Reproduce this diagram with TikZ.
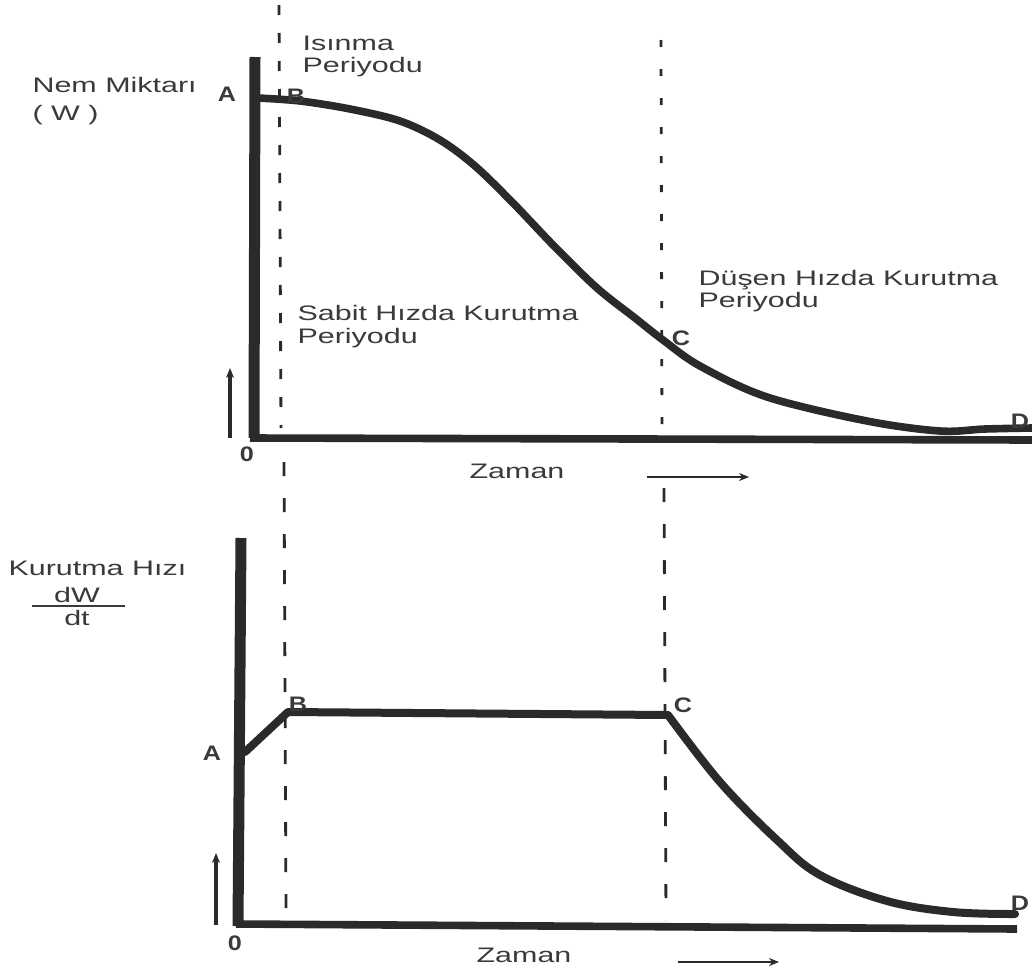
\documentclass[tikz,border=0pt]{standalone}
\usepackage{fontspec}
\setmainfont{Liberation Sans}
\usetikzlibrary{arrows.meta}
\definecolor{ink}{HTML}{2A2A2A}
\definecolor{txt}{HTML}{3A3A3A}
\begin{document}
\begin{tikzpicture}[x=0.5pt,y=-0.5pt,
  lbl/.style={font=\fontsize{10.5}{12}\selectfont, text=txt, inner sep=0pt, xscale=1.45, transform shape, anchor=base west},
  ctr/.style={lbl, anchor=base},
  ptlbl/.style={font=\fontsize{10.5}{12}\selectfont\bfseries, text=txt, inner sep=0pt, xscale=1.2, transform shape},
  axis/.style={draw=ink, line width=5pt},
  curve/.style={draw=ink, line width=3.8pt, line join=round, line cap=round},
  guideA/.style={draw=ink, line width=1.4pt, dash pattern=on 5pt off 9pt},
  guideB/.style={draw=ink, line width=1.4pt, dash pattern=on 3.5pt off 11pt},
  guideC/.style={draw=ink, line width=1.4pt, dash pattern=on 7pt off 11pt},
  uparrow/.style={draw=ink, line width=2pt, -{Stealth[length=5pt,width=4pt]}},
  rarrow/.style={draw=ink, line width=1.4pt, -{Stealth[length=5pt,width=4pt]}}]
\useasboundingbox (0,0) rectangle (1032,969);

% ---------- upper plot ----------
\coordinate (ta0) at (255,57);
\coordinate (ta1) at (254,438);
\coordinate (tb0) at (250,438);
\coordinate (tb1) at (1032,440);
\draw[axis, line width=5.5pt] (ta0) -- (ta1);
\draw[axis, line width=3.8pt] (tb0) -- (tb1);

\coordinate (g1t) at (279,5);  \coordinate (g1b) at (281,428);
\coordinate (g2t) at (661,40); \coordinate (g2b) at (662,438);
\draw[guideA] (g1t) -- (g1b);
\draw[guideB] (g2t) -- (g2b);

\draw[curve] plot[smooth, tension=0.55] coordinates {(258,98) (300,101) (350,109) (400,121) (440,140) (475,166) (513,203) (555,247) (597,288) (635,318) (663,340) (700,366) (767,397) (867,421) (940,431) (985,429) (1032,428)};

\coordinate (ua0) at (230,438); \coordinate (ua1) at (230,368);
\draw[uparrow] (ua0) -- (ua1);
\coordinate (ra0) at (647,477); \coordinate (ra1) at (749,477);
\draw[rarrow] (ra0) -- (ra1);

\node[lbl] (nem1) at (32,92) {Nem Miktarı};
\node[lbl] (nem2) at (32,120) {( W )};
\node[lbl] (isi1) at (302,50) {Isınma};
\node[lbl] (isi2) at (302,72) {Periyodu};
\node[lbl] (sab1) at (297,320) {Sabit Hızda Kurutma};
\node[lbl] (sab2) at (297,343) {Periyodu};
\node[lbl] (dus1) at (698,285) {Düşen Hızda Kurutma};
\node[lbl] (dus2) at (698,307) {Periyodu};
\node[ctr] (zam1) at (517,478) {Zaman};

\node[ptlbl] (tA) at (227,94) {A};
\node[ptlbl] (tB) at (296,96) {B};
\node[ptlbl] (tC) at (681,338) {C};
\node[ptlbl] (tD) at (1020,421) {D};
\node[ptlbl] (tO) at (247,454) {0};

% ---------- lower plot ----------
\coordinate (la0) at (241,538);
\coordinate (la1) at (238,926);
\coordinate (lb0) at (236,924);
\coordinate (lb1) at (1017,929);
\draw[axis, line width=5.5pt] (la0) -- (la1);
\draw[axis, line width=3.8pt] (lb0) -- (lb1);

\coordinate (h1t) at (284,462); \coordinate (h1b) at (286,912);
\coordinate (h2t) at (664,488); \coordinate (h2b) at (666,920);
\draw[guideC] (h1t) -- (h1b);
\draw[guideC] (h2t) -- (h2b);

\coordinate (pA) at (245,752);
\coordinate (pB) at (288,712);
\coordinate (pC) at (668,715);
\draw[curve, line width=4pt] (pA) -- (pB) -- (pC)
  plot[smooth, tension=0.6] coordinates {(668,715) (720,782) (777,840) (820,875) (887,901) (953,912) (1015,914)};

\coordinate (ub0) at (216,925); \coordinate (ub1) at (216,853);
\draw[uparrow] (ub0) -- (ub1);
\coordinate (rb0) at (678,962); \coordinate (rb1) at (779,962);
\draw[rarrow] (rb0) -- (rb1);

\node[lbl] (kur1) at (8,575) {Kurutma Hızı};
\node[ctr] (dw) at (77,602) {dW};
\coordinate (fr0) at (32,606); \coordinate (fr1) at (125,606);
\draw[draw=txt, line width=1.2pt] (fr0) -- (fr1);
\node[ctr] (dt) at (77,625) {dt};
\node[ctr] (zam2) at (524,962) {Zaman};

\node[ptlbl] (bA) at (212,753) {A};
\node[ptlbl] (bB) at (298,704) {B};
\node[ptlbl] (bC) at (683,705) {C};
\node[ptlbl] (bD) at (1020,903) {D};
\node[ptlbl] (bO) at (235,943) {0};
\end{tikzpicture}
\end{document}
